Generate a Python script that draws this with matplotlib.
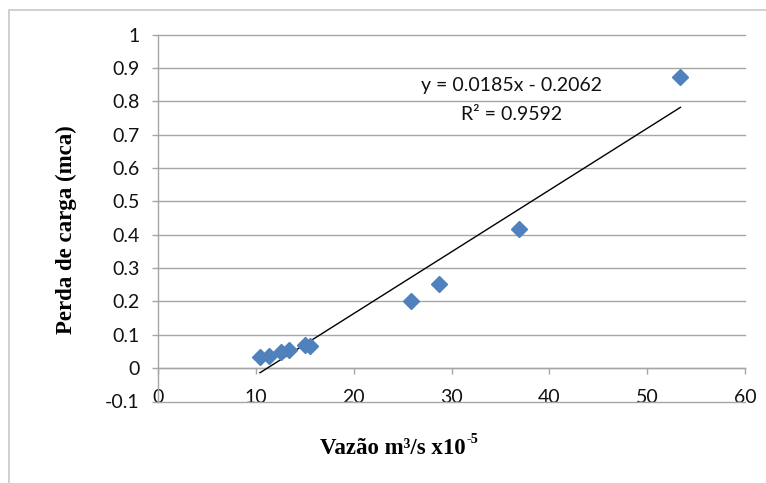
import matplotlib
matplotlib.use("Agg")
import matplotlib.pyplot as plt
from matplotlib.patches import Rectangle
from matplotlib.ticker import FuncFormatter

# Measured flow (m3/s x10^-5) and head loss (mca)
vazao = [10.4, 11.3, 12.5, 13.4, 15.0, 15.5, 25.8, 28.7, 36.9, 53.4]
perda = [0.034, 0.037, 0.049, 0.055, 0.070, 0.067, 0.200, 0.253, 0.418, 0.874]

# Linear trend line reported on the chart
slope = 0.0185
intercept = -0.2062
r2 = 0.9592

x_ticks = [0, 10, 20, 30, 40, 50, 60]
y_ticks = [-0.1, 0, 0.1, 0.2, 0.3, 0.4, 0.5, 0.6, 0.7, 0.8, 0.9, 1.0]

GRID = "#A6A6A6"
BLUE = "#4F81BD"
TICK_FONT = "Lato"
TICK_SIZE = 14
LABEL_FONT = "Liberation Serif"
LABEL_SIZE = 16.5

W, H = 766, 483
fig = plt.figure(figsize=(W / 100, H / 100), dpi=100)
fig.patch.set_facecolor("white")

# Outer chart frame (open to the right and bottom)
fig.patches.append(Rectangle((9 / W, -0.2), 2.0, 1.2 - 9.5 / H,
                             transform=fig.transFigure, fill=False,
                             edgecolor="#C8C8C8", linewidth=1.2, clip_on=False))

ax = fig.add_axes([158.3 / W, 81.5 / H, (745 - 158.3) / W, (401.5 - 34.5) / H])
ax.set_facecolor("white")

ax.set_xlim(0, 60)
ax.set_ylim(-0.1, 1.0)
ax.set_xticks(x_ticks)
ax.set_yticks(y_ticks)

def yfmt(v, _):
    s = f"{v:.1f}"
    if s in ("0.0", "-0.0"):
        return "0"
    if s == "1.0":
        return "1"
    return s

ax.yaxis.set_major_formatter(FuncFormatter(yfmt))
ax.xaxis.set_major_formatter(FuncFormatter(lambda v, _: f"{int(round(v))}"))

ax.yaxis.grid(True, color=GRID, linewidth=1.0)
ax.xaxis.grid(False)
ax.set_axisbelow(True)
for gl in ax.get_ygridlines():
    gl.set_clip_on(False)

for side in ("top", "right"):
    ax.spines[side].set_visible(False)
ax.spines["left"].set_color(GRID)
ax.spines["left"].set_linewidth(1.0)
ax.spines["bottom"].set_color(GRID)
ax.spines["bottom"].set_linewidth(1.0)
ax.spines["bottom"].set_position(("data", 0))

ax.tick_params(axis="y", direction="out", length=4.3, width=1.0, color=GRID,
               pad=9.4, labelsize=TICK_SIZE)
ax.tick_params(axis="x", direction="out", length=4.3, width=1.0, color=GRID,
               pad=11, labelsize=TICK_SIZE)
for lab in ax.get_xticklabels() + ax.get_yticklabels():
    lab.set_fontfamily(TICK_FONT)
    lab.set_color("#111111")

# Trend line over the measured range
x0, x1 = min(vazao), max(vazao)
ax.plot([x0, x1], [slope * x0 + intercept, slope * x1 + intercept],
        color="black", linewidth=1.0, zorder=3)

ax.plot(vazao, perda, linestyle="none", marker="D", markersize=8.4,
        color=BLUE, markeredgecolor=BLUE, zorder=4, clip_on=False)

sign = "-" if intercept < 0 else "+"
fig.text(511.5 / W, 1 - 86 / H, f"y = {slope:.4f}x {sign} {abs(intercept):.4f}",
         ha="center", va="center", fontsize=TICK_SIZE, fontfamily=TICK_FONT,
         color="#111111")
fig.text(511.5 / W, 1 - 115 / H, f"R² = {r2:.4f}",
         ha="center", va="center", fontsize=TICK_SIZE, fontfamily=TICK_FONT,
         color="#111111")

# X axis title with a raised "-5" exponent
renderer = fig.canvas.get_renderer()
main = fig.text(0, 1 - 454 / H, "Vazão m³/s x10", ha="left", va="baseline",
                fontsize=LABEL_SIZE, fontfamily=LABEL_FONT, fontweight="bold",
                color="black")
sup = fig.text(0, 1 - 443 / H, "-5", ha="left", va="baseline",
               fontsize=LABEL_SIZE * 0.62, fontfamily=LABEL_FONT,
               fontweight="bold", color="black")
w_main = main.get_window_extent(renderer).width
w_sup = sup.get_window_extent(renderer).width
x_start = 399 - (w_main + w_sup) / 2
main.set_x(x_start / W)
sup.set_x((x_start + w_main + 0.5) / W)

fig.text(66 / W, 1 - 230 / H, "Perda de carga (mca)", rotation=90,
         ha="center", va="center", fontsize=LABEL_SIZE, fontfamily=LABEL_FONT,
         fontweight="bold", color="black")

fig.savefig("out.png", dpi=100, facecolor="white")
